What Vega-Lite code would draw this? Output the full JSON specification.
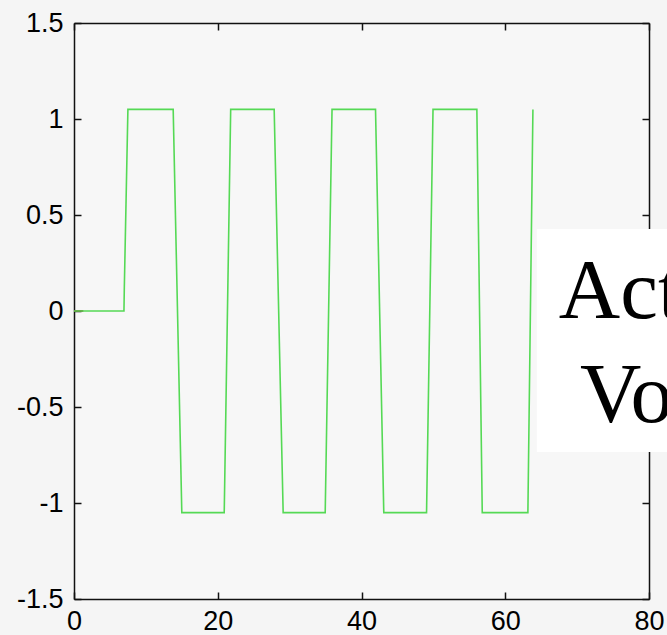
{
  "$schema": "https://vega.github.io/schema/vega-lite/v6.json",
  "width": 575,
  "height": 576,
  "autosize": {"type": "none"},
  "padding": {"left": 74, "top": 23, "right": 18, "bottom": 36},
  "background": "#f5f5f5",
  "view": {"stroke": null, "fill": "#f7f7f7"},
  "config": {
    "axis": {
      "grid": false,
      "title": null,
      "domainColor": "#111111",
      "domainWidth": 1.5,
      "tickColor": "#111111",
      "tickWidth": 1.5,
      "tickSize": -7,
      "labelFont": "Liberation Sans",
      "labelFontSize": 27,
      "labelColor": "#000000",
      "labelFlush": false,
      "labelOverlap": false,
      "labelExpr": "(datum.value < 0 ? '-' : '') + format(abs(datum.value), '~g')"
    }
  },
  "datasets": {
    "wave": [
      {"t": 0, "v": 0},
      {"t": 6.95, "v": 0},
      {"t": 7.0, "v": 0.12},
      {"t": 7.5, "v": 1.05},
      {"t": 13.8, "v": 1.05},
      {"t": 15.0, "v": -1.05},
      {"t": 20.9, "v": -1.05},
      {"t": 21.8, "v": 1.05},
      {"t": 27.85, "v": 1.05},
      {"t": 29.1, "v": -1.05},
      {"t": 34.95, "v": -1.05},
      {"t": 35.9, "v": 1.05},
      {"t": 41.95, "v": 1.05},
      {"t": 43.1, "v": -1.05},
      {"t": 49.05, "v": -1.05},
      {"t": 49.95, "v": 1.05},
      {"t": 56.05, "v": 1.05},
      {"t": 56.8, "v": -1.05},
      {"t": 63.15, "v": -1.05},
      {"t": 63.85, "v": 1.05}
    ],
    "ref": [
      {"t": 0, "v": 0},
      {"t": 1.3, "v": 0}
    ],
    "box": [
      {"x1": 64.4, "x2": 95, "y1": 0.427, "y2": -0.734}
    ],
    "labels": [
      {"x": 67.45, "y": -0.036, "label": "Actuator"},
      {"x": 70.4, "y": -0.578, "label": "Voltage"}
    ]
  },
  "layer": [
    {
      "data": {"name": "ref"},
      "mark": {"type": "line", "color": "#8b1a1a", "strokeWidth": 1.6},
      "encoding": {
        "x": {"field": "t", "type": "quantitative", "scale": {"domain": [0, 80], "nice": false}, "axis": null},
        "y": {"field": "v", "type": "quantitative", "scale": {"domain": [-1.5, 1.5], "nice": false}, "axis": null}
      }
    },
    {
      "data": {"name": "wave"},
      "mark": {"type": "line", "color": "#55d955", "strokeWidth": 1.6},
      "encoding": {
        "x": {"field": "t", "type": "quantitative", "scale": {"domain": [0, 80], "nice": false},
              "axis": {"orient": "bottom", "values": [0, 20, 40, 60, 80], "labelPadding": 16}},
        "y": {"field": "v", "type": "quantitative", "scale": {"domain": [-1.5, 1.5], "nice": false},
              "axis": {"orient": "left", "values": [-1.5, -1, -0.5, 0, 0.5, 1, 1.5], "labelPadding": 18}}
      }
    },
    {
      "data": {"name": "wave"},
      "mark": {"type": "line", "opacity": 0},
      "encoding": {
        "x": {"field": "t", "type": "quantitative", "scale": {"domain": [0, 80], "nice": false},
              "axis": {"orient": "top", "values": [0, 20, 40, 60, 80], "labels": false}},
        "y": {"field": "v", "type": "quantitative", "scale": {"domain": [-1.5, 1.5], "nice": false},
              "axis": {"orient": "right", "values": [-1.5, -1, -0.5, 0, 0.5, 1, 1.5], "labels": false}}
      }
    },
    {
      "data": {"name": "box"},
      "mark": {"type": "rect", "color": "#ffffff", "clip": false},
      "encoding": {
        "x": {"field": "x1", "type": "quantitative", "scale": {"domain": [0, 80], "nice": false}, "axis": null},
        "x2": {"field": "x2"},
        "y": {"field": "y1", "type": "quantitative", "scale": {"domain": [-1.5, 1.5], "nice": false}, "axis": null},
        "y2": {"field": "y2"}
      }
    },
    {
      "data": {"name": "labels"},
      "mark": {"type": "text", "font": "Liberation Serif", "fontSize": 85, "align": "left", "baseline": "alphabetic", "color": "#000000", "clip": false},
      "encoding": {
        "x": {"field": "x", "type": "quantitative", "scale": {"domain": [0, 80], "nice": false}, "axis": null},
        "y": {"field": "y", "type": "quantitative", "scale": {"domain": [-1.5, 1.5], "nice": false}, "axis": null},
        "text": {"field": "label"}
      }
    }
  ],
  "resolve": {"axis": {"x": "independent", "y": "independent"}}
}
